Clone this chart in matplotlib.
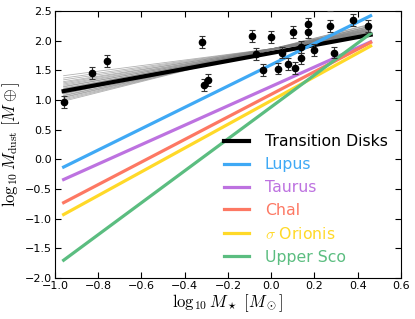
import matplotlib
matplotlib.use("Agg")
import matplotlib.pyplot as plt
import numpy as np

plt.rcParams['mathtext.fontset'] = 'cm'

## transition disk measurements
td_logmstar = [-0.96, -0.83, -0.76, -0.32, -0.31, -0.29, -0.09, -0.07, -0.04, 0.00,
               0.03, 0.05, 0.08, 0.10, 0.11, 0.14, 0.14, 0.17, 0.17, 0.20,
               0.27, 0.27, 0.29, 0.38, 0.45]
td_logmdust = [0.96, 1.46, 1.66, 1.98, 1.25, 1.33, 2.08, 1.78, 1.50, 2.06,
               1.53, 1.80, 1.61, 2.15, 1.54, 1.70, 1.90, 2.28, 2.14, 1.84,
               2.24, 2.60, 1.80, 2.35, 2.24]
td_err = [0.1] * len(td_logmstar)

## fit range (end points of every relation)
fit_x = [-0.96, 0.46]

## best fit for transition disks and bootstrap samples
td_fit = [1.15, 2.10]
boot_left = [0.98, 1.00, 1.02, 1.04, 1.05, 1.07, 1.08, 1.10, 1.11, 1.12, 1.14, 1.15, 1.16,
             1.18, 1.19, 1.20, 1.22, 1.23, 1.25, 1.27, 1.29, 1.31, 1.34, 1.37, 1.41]
boot_right = [2.28, 2.27, 2.25, 2.24, 2.24, 2.22, 2.21, 2.22, 2.20, 2.19, 2.20, 2.18, 2.17,
              2.18, 2.16, 2.15, 2.17, 2.14, 2.15, 2.13, 2.14, 2.12, 2.11, 2.10, 2.08]

## region relations (values at the fit end points)
regions = ['Lupus', 'Taurus', 'ChaI', r'$\sigma$ Orionis', 'Upper Sco']
region_left = [-0.13, -0.34, -0.73, -0.93, -1.70]
region_right = [2.42, 1.98, 1.97, 1.91, 2.12]
region_colors = ['#3fa9f5', '#bd72e0', '#fd7863', '#ffd928', '#5bbd80']

fig = plt.figure(figsize=(4.15, 3.19), dpi=100)
ax = fig.add_axes([0.1325, 0.1285, 0.8335, 0.837])

## bootstrap lines
for l, r in zip(boot_left, boot_right):
    ax.plot(fit_x, [l, r], color='gray', lw=0.6, alpha=0.6, zorder=2)

## data
ax.errorbar(td_logmstar, td_logmdust, yerr=td_err, fmt='o', color='k', ms=4.5,
            ecolor='#333333', elinewidth=0.8, capsize=2.5, capthick=0.8, zorder=5)

ax.plot(fit_x, td_fit, color='k', lw=3, label='Transition Disks', zorder=3)
for name, l, r, c in zip(regions, region_left, region_right, region_colors):
    ax.plot(fit_x, [l, r], color=c, lw=2.3, label=name, zorder=4)

ax.set_xlim(-1.0, 0.6)
ax.set_ylim(-2.0, 2.5)
ax.set_xticks(np.arange(-1.0, 0.61, 0.2))
ax.set_yticks(np.arange(-2.0, 2.51, 0.5))
ax.tick_params(direction='in', top=True, right=True, labelsize=8, length=4, pad=2)
for s in ax.spines.values():
    s.set_linewidth(0.8)

ax.set_xlabel(r'$\log_{10}M_\star\ [M_\odot]$', fontsize=12, labelpad=1)
ax.set_ylabel(r'$\log_{10}M_{\rm dust}\ [M\oplus]$', fontsize=12, labelpad=2)

leg = ax.legend(loc='lower right', frameon=False, fontsize=11.3, handlelength=1.6,
                handletextpad=1.0, labelspacing=0.5, borderaxespad=0.45)
for txt, line in zip(leg.get_texts(), leg.get_lines()):
    txt.set_color(line.get_color())

fig.savefig('out.png', dpi=100)
